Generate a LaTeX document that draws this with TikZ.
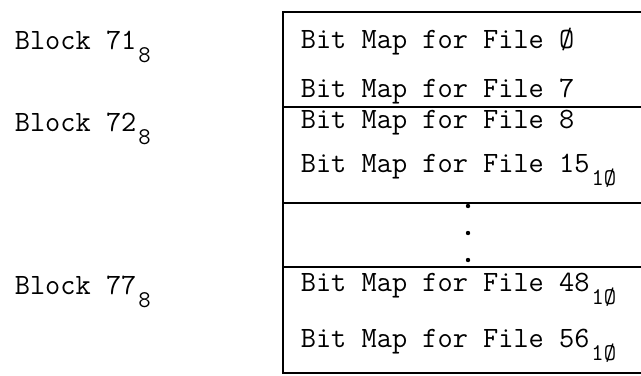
\documentclass[tikz,border=0pt]{standalone}
\usepackage{fontspec}
\newcommand{\basesub}[1]{\kern2bp\raisebox{-13bp}{\fontsize{24bp}{28bp}\selectfont #1}}

\begin{document}
\begin{tikzpicture}[x=1bp,y=-1bp, line width=1.7bp,
    every node/.style={inner sep=0pt, anchor=base west, font=\ttfamily\fontsize{29.5bp}{33bp}\selectfont}]
    \useasboundingbox (0,0) rectangle (641,375);

    % block labels
    \node (b71) at (14,49) {Block 71\basesub{8}};
    \node (b72) at (14,131) {Block 72\basesub{8}};
    \node (b77) at (14,294) {Block 77\basesub{8}};

    % box corners and dividers
    \coordinate (tl) at (283,12);
    \coordinate (tr) at (641,12);
    \coordinate (bl) at (283,373);
    \coordinate (br) at (641,373);
    \coordinate (d1l) at (283,107);
    \coordinate (d1r) at (641,107);
    \coordinate (d2l) at (283,203);
    \coordinate (d2r) at (641,203);
    \coordinate (d3l) at (283,267);
    \coordinate (d3r) at (641,267);

    \draw (tr) -- (tl) -- (bl) -- (br);
    \draw (d1l) -- (d1r);
    \draw (d2l) -- (d2r);
    \draw (d3l) -- (d3r);

    % bit map entries
    \node (f0) at (300,48) {Bit Map for File Ø};
    \node (f7) at (300,97) {Bit Map for File 7};
    \node (f8) at (300,128) {Bit Map for File 8};
    \node (f15) at (300,172) {Bit Map for File 15\basesub{1Ø}};
    \node (f48) at (300,291) {Bit Map for File 48\basesub{1Ø}};
    \node (f56) at (300,347) {Bit Map for File 56\basesub{1Ø}};

    % dots
    \foreach \y/\n in {206/1,233/2,260/3}
      \fill (468,\y) circle (2.2bp) coordinate (dot\n);

\end{tikzpicture}
\end{document}
